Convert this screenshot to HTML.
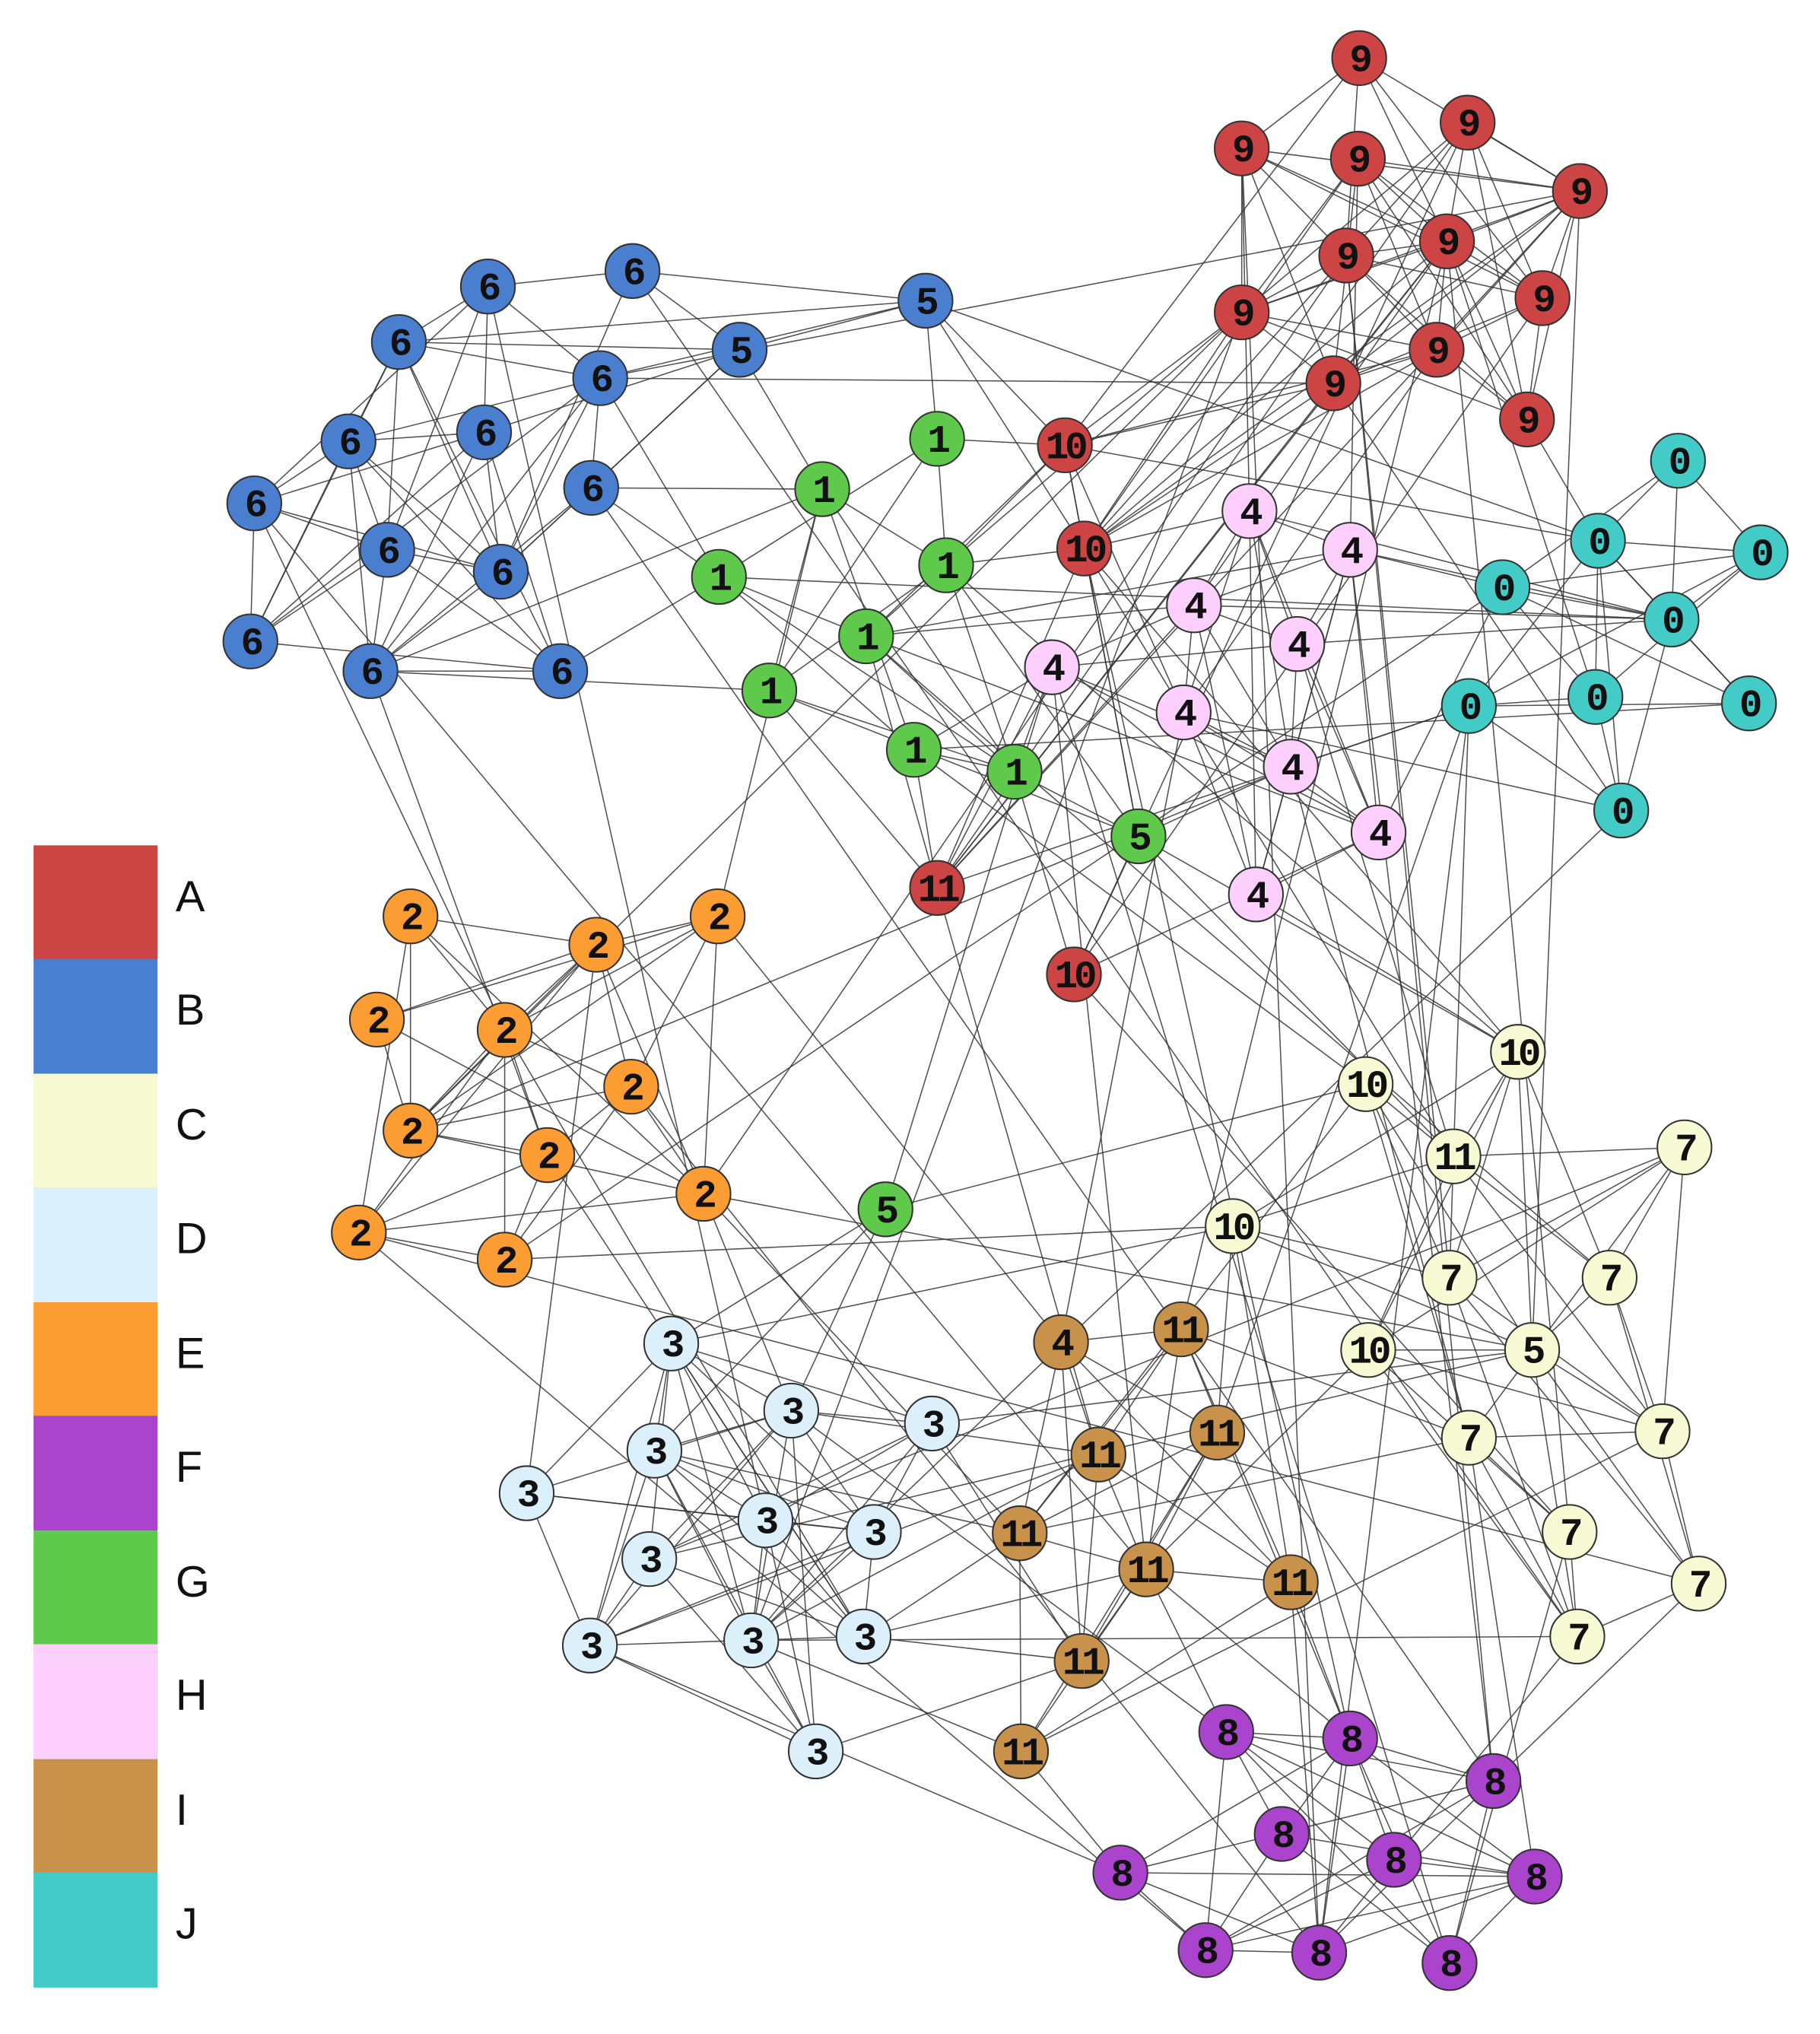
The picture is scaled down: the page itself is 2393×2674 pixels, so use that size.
<!DOCTYPE html>
<html><head><meta charset="utf-8"><style>
html,body{margin:0;padding:0;background:#fff;}
svg{display:block;}
</style></head><body>
<svg id="s" width="2393" height="2674" viewBox="0 0 1410 1576" preserveAspectRatio="none" xmlns="http://www.w3.org/2000/svg">
<g id="legend" font-family="Liberation Sans, sans-serif" font-size="34" fill="#111">
<rect x="26" y="655" width="96" height="89" fill="#cc4444"/><text x="136" y="706">A</text>
<rect x="26" y="743" width="96" height="89" fill="#4a7fcf"/><text x="136" y="794">B</text>
<rect x="26" y="832" width="96" height="89" fill="#f7fad2"/><text x="136" y="883">C</text>
<rect x="26" y="920" width="96" height="89" fill="#dcf0fb"/><text x="136" y="971">D</text>
<rect x="26" y="1009" width="96" height="89" fill="#fb9d33"/><text x="136" y="1060">E</text>
<rect x="26" y="1097" width="96" height="89" fill="#aa44cc"/><text x="136" y="1148">F</text>
<rect x="26" y="1186" width="96" height="89" fill="#5ec94a"/><text x="136" y="1237">G</text>
<rect x="26" y="1274" width="96" height="89" fill="#fccffc"/><text x="136" y="1325">H</text>
<rect x="26" y="1363" width="96" height="89" fill="#c8924a"/><text x="136" y="1414">I</text>
<rect x="26" y="1451" width="96" height="89" fill="#43cbc8"/><text x="136" y="1502">J</text>
</g>
<g id="edges" stroke="#333" stroke-width="0.9" stroke-opacity="0.85"></g>
<g id="nodes" stroke="#333" stroke-width="1.2"></g>
<g font-family="Liberation Mono, DejaVu Sans Mono, monospace" font-weight="bold" font-size="30" text-anchor="middle" fill="#111" letter-spacing="-3">
<text x="1053" y="55">9</text><text x="962" y="125">9</text><text x="1052" y="133">9</text><text x="1137" y="105">9</text><text x="1224" y="158">9</text><text x="1043" y="208">9</text><text x="1121" y="197">9</text><text x="962" y="252">9</text><text x="1195" y="241">9</text><text x="1113" y="281">9</text><text x="1033" y="307">9</text><text x="1183" y="335">9</text>
<text x="825" y="355">10</text><text x="840" y="435">10</text><text x="832" y="765">10</text><text x="726" y="698">11</text>
<text x="378" y="232">6</text><text x="490" y="220">6</text><text x="309" y="275">6</text><text x="465" y="303">6</text><text x="270" y="352">6</text><text x="375" y="345">6</text><text x="458" y="388">6</text><text x="197" y="400">6</text><text x="300" y="436">6</text><text x="388" y="453">6</text><text x="194" y="507">6</text><text x="287" y="530">6</text><text x="434" y="530">6</text><text x="717" y="243">5</text><text x="573" y="281">5</text>
<text x="726" y="350">1</text><text x="637" y="389">1</text><text x="557" y="457">1</text><text x="733" y="448">1</text><text x="671" y="503">1</text><text x="596" y="545">1</text><text x="708" y="591">1</text><text x="786" y="608">1</text><text x="882" y="658">5</text><text x="686" y="947">5</text>
<text x="968" y="406">4</text><text x="1046" y="436">4</text><text x="925" y="479">4</text><text x="1005" y="509">4</text><text x="815" y="527">4</text><text x="917" y="562">4</text><text x="1000" y="604">4</text><text x="1068" y="655">4</text><text x="973" y="703">4</text>
<text x="1300" y="367">0</text><text x="1238" y="429">0</text><text x="1364" y="438">0</text><text x="1164" y="465">0</text><text x="1295" y="490">0</text><text x="1138" y="557">0</text><text x="1236" y="550">0</text><text x="1355" y="555">0</text><text x="1256" y="638">0</text>
<text x="318" y="720">2</text><text x="462" y="742">2</text><text x="556" y="720">2</text><text x="292" y="800">2</text><text x="391" y="808">2</text><text x="489" y="852">2</text><text x="318" y="886">2</text><text x="424" y="905">2</text><text x="545" y="935">2</text><text x="278" y="965">2</text><text x="391" y="986">2</text>
<text x="1058" y="850">10</text><text x="1176" y="825">10</text><text x="955" y="960">10</text><text x="1060" y="1056">10</text><text x="1126" y="906">11</text><text x="1305" y="899">7</text><text x="1123" y="1000">7</text><text x="1247" y="1000">7</text><text x="1138" y="1124">7</text><text x="1288" y="1119">7</text><text x="1216" y="1197">7</text><text x="1316" y="1237">7</text><text x="1222" y="1278">7</text><text x="1187" y="1056">5</text>
<text x="520" y="1051">3</text><text x="613" y="1103">3</text><text x="722" y="1113">3</text><text x="507" y="1134">3</text><text x="408" y="1167">3</text><text x="593" y="1188">3</text><text x="677" y="1197">3</text><text x="503" y="1218">3</text><text x="457" y="1285">3</text><text x="582" y="1281">3</text><text x="669" y="1278">3</text><text x="632" y="1367">3</text>
<text x="822" y="1050">4</text><text x="915" y="1040">11</text><text x="943" y="1120">11</text><text x="851" y="1137">11</text><text x="790" y="1198">11</text><text x="888" y="1226">11</text><text x="1000" y="1236">11</text><text x="838" y="1297">11</text><text x="791" y="1367">11</text>
<text x="950" y="1352">8</text><text x="1046" y="1357">8</text><text x="1157" y="1390">8</text><text x="993" y="1431">8</text><text x="1080" y="1451">8</text><text x="1189" y="1464">8</text><text x="868" y="1461">8</text><text x="934" y="1521">8</text><text x="1022" y="1523">8</text><text x="1123" y="1531">8</text>
</g>
</svg>
<script>
var C={r:"#cc4444",b:"#4a7fcf",y:"#f7fad2",l:"#dcf0fb",o:"#fb9d33",p:"#aa44cc",g:"#5ec94a",h:"#fccffc",i:"#c8924a",c:"#43cbc8"};
var N=[
["r",1053,45],["r",962,115],["r",1052,123],["r",1137,95],["r",1224,148],["r",1043,198],["r",1121,187],["r",962,242],["r",1195,231],["r",1113,271],["r",1033,297],["r",1183,325],
["r",825,345],["r",840,425],["r",832,755],["r",726,688],
["b",378,222],["b",490,210],["b",309,265],["b",465,293],["b",270,342],["b",375,335],["b",458,378],["b",197,390],["b",300,426],["b",388,443],["b",194,497],["b",287,520],["b",434,520],["b",717,233],["b",573,271],
["g",726,340],["g",637,379],["g",557,447],["g",733,438],["g",671,493],["g",596,535],["g",708,581],["g",786,598],["g",882,648],["g",686,937],
["h",968,396],["h",1046,426],["h",925,469],["h",1005,499],["h",815,517],["h",917,552],["h",1000,594],["h",1068,645],["h",973,693],
["c",1300,357],["c",1238,419],["c",1364,428],["c",1164,455],["c",1295,480],["c",1138,547],["c",1236,540],["c",1355,545],["c",1256,628],
["o",318,710],["o",462,732],["o",556,710],["o",292,790],["o",391,798],["o",489,842],["o",318,876],["o",424,895],["o",545,925],["o",278,955],["o",391,976],
["y",1058,840],["y",1176,815],["y",955,950],["y",1060,1046],["y",1126,896],["y",1305,889],["y",1123,990],["y",1247,990],["y",1138,1114],["y",1288,1109],["y",1216,1187],["y",1316,1227],["y",1222,1268],["y",1187,1046],
["l",520,1041],["l",613,1093],["l",722,1103],["l",507,1124],["l",408,1157],["l",593,1178],["l",677,1187],["l",503,1208],["l",457,1275],["l",582,1271],["l",669,1268],["l",632,1357],
["i",822,1040],["i",915,1030],["i",943,1110],["i",851,1127],["i",790,1188],["i",888,1216],["i",1000,1226],["i",838,1287],["i",791,1357],
["p",950,1342],["p",1046,1347],["p",1157,1380],["p",993,1421],["p",1080,1441],["p",1189,1454],["p",868,1451],["p",934,1511],["p",1022,1513],["p",1123,1521]
];
var seed=12345;function rnd(){seed=(seed*16807)%2147483647;return seed/2147483647;}
var h="";
for(var a=0;a<N.length;a++)for(var b=a+1;b<N.length;b++){
 var dx=N[a][1]-N[b][1],dy=N[a][2]-N[b][2],d=Math.sqrt(dx*dx+dy*dy);
 var p=(N[a][0]==N[b][0])?(d<300?0.7:0.25):(d<250?0.18:(d<450?0.05:0.01));
 if(rnd()<p)h+='<line x1="'+N[a][1]+'" y1="'+N[a][2]+'" x2="'+N[b][1]+'" y2="'+N[b][2]+'"/>';
}
document.getElementById("edges").innerHTML=h;
var s="";for(var k=0;k<N.length;k++){var n=N[k];s+='<circle cx="'+n[1]+'" cy="'+n[2]+'" r="21" fill="'+C[n[0]]+'"/>';}
document.getElementById("nodes").innerHTML=s;
</script>
</body></html>
